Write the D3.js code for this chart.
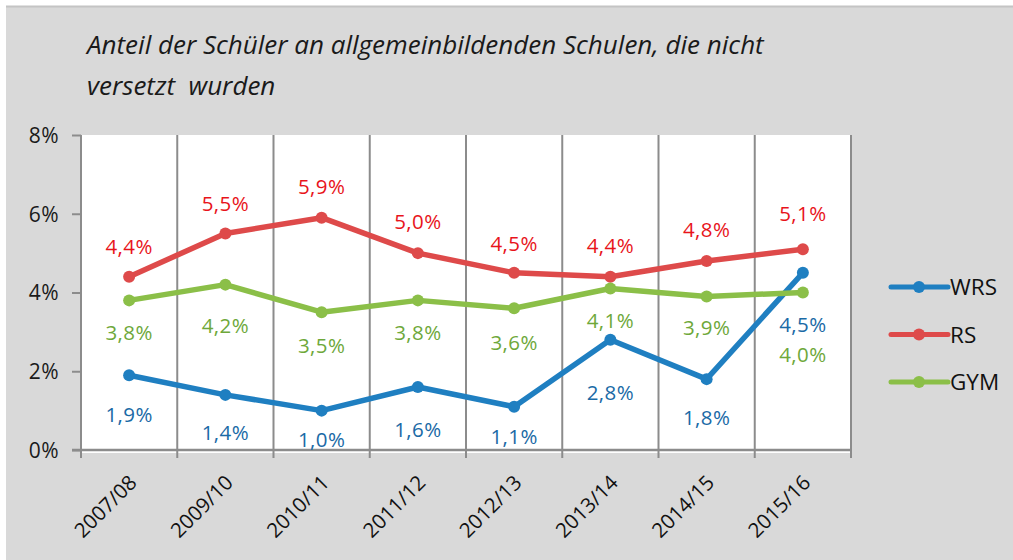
<!DOCTYPE html>
<html>
<head>
<meta charset="utf-8">
<script src="https://cdn.jsdelivr.net/npm/d3@7"></script>
<style>
  body { margin: 0; background: #fff; }
  text { font-family: "Open Sans", "DejaVu Sans", sans-serif; }
</style>
</head>
<body>
<svg width="1013" height="560"></svg>
<script>
const years = ["2007/08", "2009/10", "2010/11", "2011/12", "2012/13", "2013/14", "2014/15", "2015/16"];
const wrs = [1.9, 1.4, 1.0, 1.6, 1.1, 2.8, 1.8, 4.5];
const rs  = [4.4, 5.5, 5.9, 5.0, 4.5, 4.4, 4.8, 5.1];
const gym = [3.8, 4.2, 3.5, 3.8, 3.6, 4.1, 3.9, 4.0];
const yTicks = [0, 2, 4, 6, 8];

// where each data label sits relative to its point (px, text centre)
const labelShift = {
  WRS: [40, 38, 29, 43, 30, 53, 39, 52],
  RS:  [-30, -30, -31, -31, -29, -31, -31, -35],
  GYM: [32, 41, 34, 32, 35, 32, 31, 62]
};

const series = [
  {name: "WRS", values: wrs, color: "#1f7fc1", textColor: "#1a6aa6"},
  {name: "RS",  values: rs,  color: "#de4a4a", textColor: "#e8141b"},
  {name: "GYM", values: gym, color: "#8bbf48", textColor: "#6ea83a"}
];

const svg = d3.select("svg");

// background
svg.append("rect").attr("x", 6).attr("y", 6).attr("width", 1007).attr("height", 554).attr("fill", "#d9d9d9");
svg.append("line").attr("x1", 6).attr("x2", 1013).attr("y1", 6.5).attr("y2", 6.5).attr("stroke", "#c4c4c4").attr("stroke-width", 2);

// title
const title = svg.append("text")
  .attr("font-style", "italic").attr("font-size", 26).attr("fill", "#1a1a1a")
  .style("white-space", "pre");
title.append("tspan").attr("x", 87).attr("y", 54).text("Anteil der Schüler an allgemeinbildenden Schulen, die nicht");
title.append("tspan").attr("x", 87).attr("y", 95).text("versetzt  wurden");

const plotL = 81, plotR = 851, plotT = 135, plotB = 450;

const x = d3.scaleBand().domain(years).range([plotL, plotR]);
const xEdge = d3.scaleLinear().domain([0, years.length]).range([plotL, plotR]);
const y = d3.scaleLinear().domain([0, 8]).range([plotB, plotT]);

svg.append("rect").attr("x", plotL).attr("y", plotT).attr("width", plotR - plotL).attr("height", plotB - plotT + 3).attr("fill", "#fff");

// vertical gridlines with ticks below axis
svg.append("g").selectAll("line")
  .data(d3.range(years.length + 1))
  .enter().append("line")
  .attr("x1", d => xEdge(d)).attr("x2", d => xEdge(d))
  .attr("y1", plotT).attr("y2", plotB + 8)
  .attr("stroke", "#8c8c8c").attr("stroke-width", 2);

// y axis
const yAxis = d3.axisLeft(y).tickValues(yTicks).tickSize(9).tickPadding(13).tickFormat(d => d + "%");
const gy = svg.append("g").attr("transform", `translate(${plotL},0)`).call(yAxis);
gy.select(".domain").remove();
gy.selectAll("line").attr("stroke", "#8c8c8c").attr("stroke-width", 2);
gy.selectAll("text").attr("font-size", 21).attr("font-weight", 500).attr("fill", "#1a1a1a").attr("font-family", "Open Sans")
  .attr("letter-spacing", 0.5).attr("dy", "0.35em");

// x axis baseline
svg.append("line").attr("x1", plotL - 9).attr("x2", plotR).attr("y1", plotB).attr("y2", plotB)
  .attr("stroke", "#8c8c8c").attr("stroke-width", 2.5);

// category labels
svg.append("g").selectAll("text")
  .data(years)
  .enter().append("text")
  .attr("transform", d => `translate(${x(d) + x.bandwidth() / 2 + 9},${plotB + 34}) rotate(-45)`)
  .attr("text-anchor", "end")
  .attr("font-size", 20.5).attr("font-weight", 500).attr("fill", "#111")
  .text(d => d);

// lines
const line = d3.line().x((d, i) => x(years[i]) + x.bandwidth() / 2).y(d => y(d));

series.forEach(s => {
  const g = svg.append("g");
  g.append("path").datum(s.values)
    .attr("d", line).attr("fill", "none")
    .attr("stroke", s.color).attr("stroke-width", 5.5).attr("stroke-linejoin", "round");
  g.selectAll("circle").data(s.values).enter().append("circle")
    .attr("cx", (d, i) => x(years[i]) + x.bandwidth() / 2)
    .attr("cy", d => y(d))
    .attr("r", 6).attr("fill", s.color);
});

// data labels drawn after all lines
series.forEach(s => {
  svg.append("g").selectAll("text").data(s.values).enter().append("text")
    .attr("x", (d, i) => x(years[i]) + x.bandwidth() / 2)
    .attr("y", (d, i) => y(d) + labelShift[s.name][i])
    .attr("dy", "0.35em")
    .attr("text-anchor", "middle")
    .attr("font-size", 20.5).attr("font-weight", 500).attr("letter-spacing", 0.4).attr("fill", s.textColor)
    .text(d => d.toFixed(1).replace(".", ",") + "%");
});

// legend
const legend = svg.append("g").attr("transform", "translate(891,287)");
const rows = legend.selectAll("g").data(series).enter().append("g")
  .attr("transform", (d, i) => `translate(0,${i * 47.5})`);
rows.append("line").attr("x1", 0).attr("x2", 57).attr("stroke", d => d.color).attr("stroke-width", 5).attr("stroke-linecap", "round");
rows.append("circle").attr("cx", 28).attr("r", 6).attr("fill", d => d.color);
rows.append("text").attr("x", 59).attr("dy", "0.36em").attr("font-size", 22.5).attr("font-weight", 500).attr("fill", "#111").text(d => d.name);
</script>
</body>
</html>
